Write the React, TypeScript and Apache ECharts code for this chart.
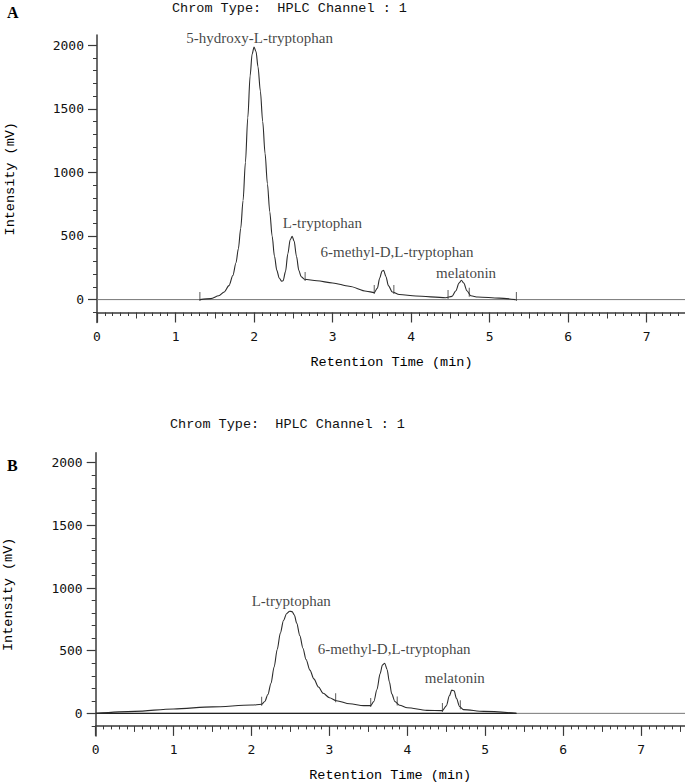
import React, { useEffect, useRef } from "react";
import * as echarts from "echarts";

// ---------- Panel A data ----------
const timeA = [1.31, 1.45, 1.55, 1.62, 1.68, 1.73, 1.77, 1.8, 1.83, 1.86, 1.89, 1.92, 1.95, 1.975, 2.0, 2.025, 2.05, 2.08, 2.11, 2.14, 2.17, 2.2, 2.23, 2.26, 2.29, 2.32, 2.35, 2.37, 2.4, 2.43, 2.46, 2.485, 2.51, 2.54, 2.57, 2.6, 2.64, 2.8, 3.0, 3.21, 3.43, 3.53, 3.57, 3.6, 3.63, 3.65, 3.68, 3.71, 3.76, 3.85, 4.06, 4.44, 4.52, 4.57, 4.61, 4.64, 4.67, 4.71, 4.76, 4.85, 5.12, 5.33];
const intensityA = [0, 8, 30, 60, 110, 190, 290, 400, 560, 780, 1080, 1430, 1760, 1930, 1985, 1950, 1830, 1640, 1400, 1150, 910, 690, 500, 340, 230, 170, 145, 148, 220, 360, 470, 497, 460, 340, 230, 180, 160, 148, 131, 105, 66, 55, 90, 170, 225, 230, 180, 110, 60, 40, 28, 15, 25, 70, 130, 152, 130, 70, 30, 20, 12, 0];
const markerTimeA = [1.31, 2.65, 3.53, 3.78, 4.47, 4.74, 5.34];
const markerLevelA = [0, 158, 55, 55, 16, 35, 0];
const labelsA = ["5-hydroxy-L-tryptophan", "L-tryptophan", "6-methyl-D,L-tryptophan", "melatonin"];
const labelTimeA = [2.07, 2.87, 3.82, 4.7];
const labelLevelA = [2058, 602, 374, 209];

// ---------- Panel B data ----------
const timeB = [0, 0.5, 1.0, 1.5, 2.0, 2.13, 2.17, 2.21, 2.25, 2.29, 2.33, 2.37, 2.41, 2.45, 2.49, 2.52, 2.55, 2.58, 2.62, 2.66, 2.7, 2.75, 2.8, 2.86, 2.92, 3.0, 3.09, 3.26, 3.44, 3.53, 3.57, 3.61, 3.65, 3.68, 3.71, 3.74, 3.77, 3.8, 3.84, 3.9, 4.0, 4.25, 4.45, 4.5, 4.54, 4.57, 4.6, 4.63, 4.67, 4.72, 4.98, 5.4];
const intensityB = [0, 16, 35, 52, 66, 72, 95, 150, 240, 370, 510, 640, 740, 795, 815, 812, 785, 720, 620, 520, 430, 345, 275, 210, 160, 125, 101, 76, 62, 62, 95, 190, 315, 385, 400, 350, 250, 155, 95, 65, 45, 24, 22, 60, 140, 185, 180, 120, 55, 30, 16, 0];
const markerTimeB = [2.13, 3.08, 3.53, 3.87, 4.45, 4.68];
const markerLevelB = [72, 101, 62, 75, 22, 45];
const labelsB = ["L-tryptophan", "6-methyl-D,L-tryptophan", "melatonin"];
const labelTimeB = [2.51, 3.83, 4.61];
const labelLevelB = [899, 511, 279];
const baselineEndB = 5.4;

// ---------- Axes ticks ----------
const xMajor = [0, 1, 2, 3, 4, 5, 6, 7];
const xHalf = [0.5, 1.5, 2.5, 3.5, 4.5, 5.5, 6.5, 7.5];
const yMajor = [0, 500, 1000, 1500, 2000];
const chromTitle = "Chrom Type:  HPLC Channel : 1";
const xName = "Retention Time (min)";
const yName = "Intensity (mV)";

const MONO = "'Liberation Mono', 'Courier New', monospace";
const SANSMONO = "'DejaVu Sans Mono', monospace";
const SERIF = "'Liberation Serif', 'Times New Roman', serif";
const AXIS_COLOR = "#3a3a3a";

function range(start: number, end: number, step: number, skip: (v: number) => boolean) {
  const out: number[] = [];
  for (let i = Math.round(start / step); i <= Math.round(end / step); i++) {
    const v = Math.round(i * step * 1000) / 1000;
    if (!skip(v)) out.push(v);
  }
  return out;
}

const xMinor = range(0, 7.5, 0.1, (v) => Math.abs(v * 2 - Math.round(v * 2)) < 1e-6);
const yMinor = range(-100, 2000, 100, (v) => v % 500 === 0 && v >= 0);

function makeXAxes(gridIndex: number, max: number) {
  const base = {
    type: "value",
    gridIndex,
    min: 0,
    max,
    position: "bottom",
    offset: -10,
    splitLine: { show: false },
  };
  return [
    {
      ...base,
      name: xName,
      nameLocation: "middle",
      nameGap: 43,
      nameTextStyle: { fontFamily: MONO, fontSize: 13.5, color: "#000" },
      axisLine: { show: true, onZero: false, lineStyle: { color: AXIS_COLOR, width: 1.5 } },
      axisTick: { show: true, customValues: xMajor, length: 10, lineStyle: { color: AXIS_COLOR, width: 1.2 } },
      axisLabel: { show: true, customValues: xMajor, margin: 17, fontFamily: SANSMONO, fontSize: 13, color: "#111", formatter: (v: number) => String(v) },
    },
    {
      ...base,
      axisLine: { show: false, onZero: false },
      axisTick: { show: true, customValues: xHalf, length: 6, lineStyle: { color: AXIS_COLOR, width: 1 } },
      axisLabel: { show: false },
    },
    {
      ...base,
      axisLine: { show: false, onZero: false },
      axisTick: { show: true, customValues: xMinor, length: 3.5, lineStyle: { color: AXIS_COLOR, width: 1 } },
      axisLabel: { show: false },
    },
  ];
}

function makeYAxes(gridIndex: number) {
  const base = {
    type: "value",
    gridIndex,
    min: -180,
    max: 2080,
    position: "left",
    offset: 0,
    splitLine: { show: false },
  };
  return [
    {
      ...base,
      name: yName,
      nameLocation: "middle",
      nameRotate: 90,
      nameGap: 80,
      nameTextStyle: { fontFamily: MONO, fontSize: 13.5, color: "#000" },
      axisLine: { show: true, onZero: false, lineStyle: { color: AXIS_COLOR, width: 1.5 } },
      axisTick: { show: true, customValues: yMajor, length: 9, lineStyle: { color: AXIS_COLOR, width: 1.2 } },
      axisLabel: { show: true, customValues: yMajor, margin: 13, fontFamily: SANSMONO, fontSize: 13, color: "#111", formatter: (v: number) => String(v) },
    },
    {
      ...base,
      axisLine: { show: false, onZero: false },
      axisTick: { show: true, customValues: yMinor, length: 4, lineStyle: { color: AXIS_COLOR, width: 1 } },
      axisLabel: { show: false },
    },
  ];
}

function zip(a: number[], b: number[]) {
  return a.map((t, i) => [t, b[i]]);
}

function panelSeries(
  xIdx: number,
  yIdx: number,
  times: number[],
  levels: number[],
  mT: number[],
  mL: number[],
  labels: string[],
  lT: number[],
  lL: number[],
  baselineEnd: number | null
) {
  const list: any[] = [
    {
      type: "line",
      xAxisIndex: xIdx,
      yAxisIndex: yIdx,
      data: [[0, 0], [7.6, 0]],
      showSymbol: false,
      symbol: "none",
      silent: true,
      lineStyle: { color: "#777", width: 1 },
      z: 1,
    },
    {
      type: "line",
      xAxisIndex: xIdx,
      yAxisIndex: yIdx,
      data: zip(times, levels),
      smooth: 0.3,
      smoothMonotone: "x",
      symbol: "none",
      showSymbol: false,
      lineStyle: { color: "#2b2b2b", width: 1.1 },
      z: 3,
    },
    {
      type: "scatter",
      xAxisIndex: xIdx,
      yAxisIndex: yIdx,
      data: zip(mT, mL),
      symbol: "rect",
      symbolSize: [1, 9],
      symbolOffset: [0, -3],
      itemStyle: { color: "#333" },
      z: 4,
    },
    {
      type: "scatter",
      xAxisIndex: xIdx,
      yAxisIndex: yIdx,
      data: labels.map((name, i) => ({ name, value: [lT[i], lL[i]] })),
      symbolSize: 1,
      itemStyle: { color: "rgba(0,0,0,0)" },
      label: {
        show: true,
        position: "inside",
        formatter: (p: any) => p.name,
        fontFamily: SERIF,
        fontSize: 15,
        color: "#111",
      },
      z: 5,
    },
  ];
  if (baselineEnd !== null) {
    list.push({
      type: "line",
      xAxisIndex: xIdx,
      yAxisIndex: yIdx,
      data: [[0, 0], [baselineEnd, 0]],
      symbol: "none",
      showSymbol: false,
      lineStyle: { color: "#222", width: 1.3 },
      z: 2,
    });
  }
  return list;
}

export default function App() {
  const ref = useRef<HTMLDivElement>(null);
  useEffect(() => {
    if (!ref.current) return;
    const chart = echarts.init(ref.current, undefined, { renderer: "svg" });
    const option: any = {
      animation: false,
      backgroundColor: "#ffffff",
      grid: [
        { left: 97, top: 35, width: 589, height: 287.5, outerBoundsMode: "none", containLabel: false },
        { left: 95.7, top: 452.7, width: 589, height: 283.2, outerBoundsMode: "none", containLabel: false },
      ],
      xAxis: [...makeXAxes(0, 7.5), ...makeXAxes(1, 7.56)],
      yAxis: [...makeYAxes(0), ...makeYAxes(1)],
      series: [
        ...panelSeries(0, 0, timeA, intensityA, markerTimeA, markerLevelA, labelsA, labelTimeA, labelLevelA, null),
        ...panelSeries(3, 2, timeB, intensityB, markerTimeB, markerLevelB, labelsB, labelTimeB, labelLevelB, baselineEndB),
      ],
      graphic: [
        { type: "text", left: 7, top: 4, style: { text: "A", font: `bold 16px ${SERIF}`, fill: "#000" } },
        { type: "text", left: 7, top: 457, style: { text: "B", font: `bold 16px ${SERIF}`, fill: "#000" } },
        { type: "text", left: 172, top: 1, style: { text: chromTitle, font: `13.5px ${MONO}`, fill: "#111" } },
        { type: "text", left: 170, top: 417, style: { text: chromTitle, font: `13.5px ${MONO}`, fill: "#111" } },
      ],
    };
    chart.setOption(option);
    return () => chart.dispose();
  }, []);
  return (
    <div
      ref={ref}
      style={{ position: "fixed", left: 0, top: 0, width: 685, height: 783, background: "#fff" }}
    />
  );
}
